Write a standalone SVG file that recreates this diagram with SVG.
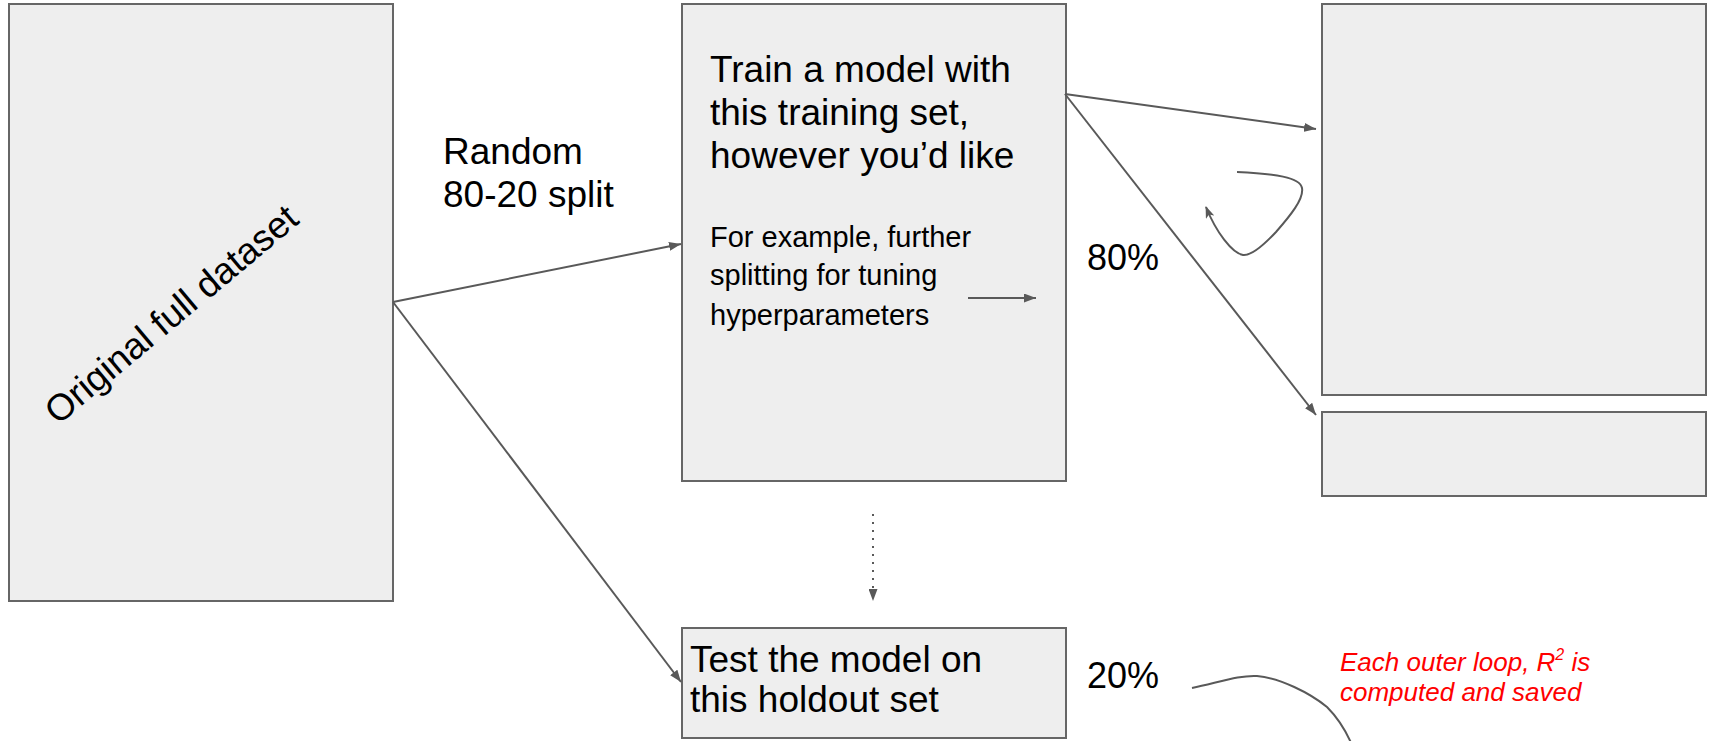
<svg xmlns="http://www.w3.org/2000/svg" width="1710" height="741" viewBox="0 0 1710 741">
<style>
.box{fill:#eeeeee;stroke:#666666;stroke-width:2}
.t{font-family:"Liberation Sans",Arial,sans-serif;fill:#000000}
.big{font-size:37px}
.small{font-size:29px}
.red{font-family:"Liberation Sans",Arial,sans-serif;font-size:26px;font-style:italic;fill:#ff0000}
.ln{fill:none;stroke:#595959;stroke-width:2}
</style>
<defs>
<marker id="ah" viewBox="0 0 12 9" refX="12" refY="4.5" markerWidth="12" markerHeight="9" markerUnits="userSpaceOnUse" orient="auto">
<path d="M0,0 L12,4.5 L0,9 z" fill="#595959"/>
</marker>
<marker id="ah2" viewBox="0 0 12 9" refX="11" refY="4.5" markerWidth="12" markerHeight="9" markerUnits="userSpaceOnUse" orient="auto">
<path d="M0,0 L12,4.5 L0,9 L3,4.5 z" fill="#595959"/>
</marker>
</defs>
<g id="original-dataset">
<rect class="box" x="9" y="4" width="384" height="597"/>
<text class="t" x="171" y="327" font-size="37" text-anchor="middle" transform="rotate(-40 171 314)">Original full dataset</text>
</g>
<g id="train-box">
<rect class="box" x="682" y="4" width="384" height="477"/>
<text class="t big" x="710" y="82">Train a model with</text>
<text class="t big" x="710" y="125">this training set,</text>
<text class="t big" x="710" y="168">however you’d like</text>
<text class="t small" x="710" y="247">For example, further</text>
<text class="t small" x="710" y="285">splitting for tuning</text>
<text class="t small" x="710" y="325">hyperparameters</text>
</g>
<g id="inner-train-box">
<rect class="box" x="1322" y="4" width="384" height="391"/>
</g>
<g id="inner-validation-box">
<rect class="box" x="1322" y="412" width="384" height="84"/>
</g>
<g id="test-box">
<rect class="box" x="682" y="628" width="384" height="110"/>
<text class="t big" x="690" y="672">Test the model on</text>
<text class="t big" x="690" y="712">this holdout set</text>
</g>
<g id="labels">
<text class="t big" x="443" y="164">Random</text>
<text class="t big" x="443" y="207">80-20 split</text>
<text class="t" x="1087" y="270" font-size="36">80%</text>
<text class="t" x="1087" y="688" font-size="36">20%</text>
<text class="red" x="1340" y="671">Each outer loop, R<tspan font-size="16" dy="-11">2</tspan><tspan dy="11"> is</tspan></text>
<text class="red" x="1340" y="701">computed and saved</text>
</g>
<g id="connectors">
<line class="ln" x1="393" y1="302" x2="681" y2="244" marker-end="url(#ah)"/>
<line class="ln" x1="393" y1="302" x2="681" y2="682" marker-end="url(#ah)"/>
<line class="ln" x1="1065" y1="94" x2="1316" y2="129" marker-end="url(#ah)"/>
<line class="ln" x1="1065" y1="94" x2="1316" y2="415" marker-end="url(#ah)"/>
<line class="ln" x1="968" y1="298" x2="1036" y2="298" marker-end="url(#ah)"/>
<line class="ln" x1="873" y1="514" x2="873" y2="601" stroke-dasharray="2 6" marker-end="url(#ah)"/>
<path class="ln" d="M1237,172 C1275,174 1300,177 1302,188 C1304,199 1290,216 1276,232 C1262,247 1251,256 1243,255 C1232,253 1216,232 1206,207" marker-end="url(#ah2)"/>
<path class="ln" d="M1192,688 C1220,682 1240,675 1257,676 C1280,678 1310,693 1327,707 C1337,717 1346,731 1352,745"/>
</g>
</svg>
